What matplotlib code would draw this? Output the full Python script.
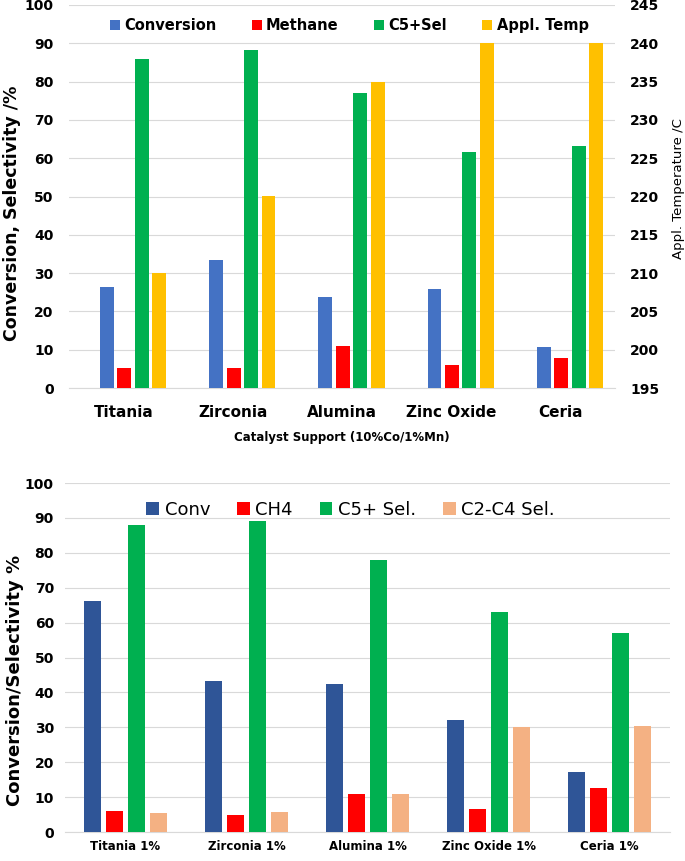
import matplotlib
matplotlib.use("Agg")
import matplotlib.pyplot as plt
import numpy as np

# ---- Top chart data ----
top_cats = ["Titania", "Zirconia", "Alumina", "Zinc Oxide", "Ceria"]
top_conversion = [26.3, 33.5, 23.8, 25.8, 10.8]
top_methane = [5.2, 5.2, 11.0, 6.0, 7.8]
top_c5sel = [85.8, 88.3, 77.0, 61.5, 63.3]
top_temp = [210, 220, 235, 240, 240]
top_series_names = ["Conversion", "Methane", "C5+Sel", "Appl. Temp"]

# ---- Bottom chart data ----
bot_cats = ["Titania 1%", "Zirconia 1%", "Alumina 1%", "Zinc Oxide 1%", "Ceria 1%"]
bot_conv = [66.3, 43.3, 42.3, 32.0, 17.3]
bot_ch4 = [6.0, 5.0, 11.0, 6.5, 12.7]
bot_c5 = [88.0, 89.0, 78.0, 63.0, 57.0]
bot_c2c4 = [5.5, 5.8, 10.8, 30.2, 30.5]
bot_series_names = ["Conv", "CH4", "C5+ Sel.", "C2-C4 Sel."]

top_colors = ["#4472C4", "#FF0000", "#00B050", "#FFC000"]
bot_colors = ["#2F5597", "#FF0000", "#00B050", "#F4B183"]

plt.rcParams['font.family'] = ['DejaVu Sans']
fig = plt.figure(figsize=(6.85, 8.61), dpi=100)

# ---------- Top ----------
ax1 = fig.add_axes([69/685, 1-388/861, 546/685, 383/861])
ax2 = ax1.twinx()
x = np.arange(len(top_cats))
w = 0.128
step = 0.16
shift = 0.087
offs = (np.arange(4) - 1.5) * step + shift
h1 = ax1.bar(x + offs[0], top_conversion, w, color=top_colors[0], label=top_series_names[0], zorder=3)
h2 = ax1.bar(x + offs[1], top_methane, w, color=top_colors[1], label=top_series_names[1], zorder=3)
h3 = ax1.bar(x + offs[2], top_c5sel, w, color=top_colors[2], label=top_series_names[2], zorder=3)
h4 = ax2.bar(x + offs[3], np.array(top_temp) - 195, w, bottom=195, color=top_colors[3],
             label=top_series_names[3], zorder=3)
ax1.set_ylim(0, 100)
ax2.set_ylim(195, 245)
ax1.set_yticks(np.arange(0, 101, 10))
ax2.set_yticks(np.arange(195, 246, 5))
ax1.set_xlim(-0.5, 4.5)
ax1.set_xticks(x)
ax1.set_xticklabels(top_cats, fontsize=11, fontweight='bold')
ax1.yaxis.grid(True, color='#D9D9D9', linewidth=0.8, zorder=0)
ax1.set_axisbelow(True)
for a in (ax1, ax2):
    for s in a.spines.values():
        s.set_visible(False)
    a.tick_params(length=0)
ax1.spines['bottom'].set_visible(True)
ax1.spines['bottom'].set_color('#D9D9D9')
for lab in ax1.get_yticklabels():
    lab.set_fontweight('bold'); lab.set_fontsize(10)
for lab in ax2.get_yticklabels():
    lab.set_fontweight('bold'); lab.set_fontsize(10)
ax1.tick_params(axis='x', pad=12)
ax1.tick_params(axis='y', pad=11)
ax2.tick_params(axis='y', pad=11)
ax1.set_ylabel("Conversion, Selectivity /%", fontsize=12.5, fontweight='bold')
ax1.yaxis.set_label_coords(-0.087, 0.457)
ax2.set_ylabel("Appl. Temperature /C", fontsize=9.5)
ax2.yaxis.set_label_coords(1.105, 0.52)
ax1.set_xlabel("Catalyst Support (10%Co/1%Mn)", fontsize=8.5, fontweight='bold', labelpad=8)
ax1.legend(handles=[h1, h2, h3, h4], loc='upper center', bbox_to_anchor=(0.513, 1.0),
           ncol=4, frameon=False, handlelength=0.7, handleheight=0.7,
           handletextpad=0.3, columnspacing=2.4, prop={'weight': 'bold', 'size': 10.5})

# ---------- Bottom ----------
bx = fig.add_axes([65/685, 1-832/861, 605/685, 349/861])
x = np.arange(len(bot_cats))
w = 0.14
step = 0.182
offs = (np.arange(4) - 1.5) * step
hs = []
for i, (vals, name) in enumerate(zip([bot_conv, bot_ch4, bot_c5, bot_c2c4], bot_series_names)):
    hs.append(bx.bar(x + offs[i], vals, w, color=bot_colors[i], label=name, zorder=3))
bx.set_ylim(0, 100)
bx.set_yticks(np.arange(0, 101, 10))
bx.set_xlim(-0.5, 4.5)
bx.set_xticks(x)
bx.set_xticklabels(bot_cats, fontsize=8.5, fontweight='bold')
bx.yaxis.grid(True, color='#D9D9D9', linewidth=0.8, zorder=0)
bx.set_axisbelow(True)
for s in bx.spines.values():
    s.set_visible(False)
bx.spines['bottom'].set_visible(True)
bx.spines['bottom'].set_color('#D9D9D9')
bx.tick_params(length=0)
for lab in bx.get_yticklabels():
    lab.set_fontweight('bold'); lab.set_fontsize(10)
bx.tick_params(axis='y', pad=8)
bx.tick_params(axis='x', pad=6)
bx.set_ylabel("Conversion/Selectivity %", fontsize=13, fontweight='bold')
bx.yaxis.set_label_coords(-0.068, 0.433)
bx.legend(handles=hs, loc='upper center', bbox_to_anchor=(0.472, 0.995), ncol=4, frameon=False,
          fontsize=13, handlelength=0.7, handleheight=0.7, handletextpad=0.3, columnspacing=1.5)

fig.savefig("out.png", dpi=100)
